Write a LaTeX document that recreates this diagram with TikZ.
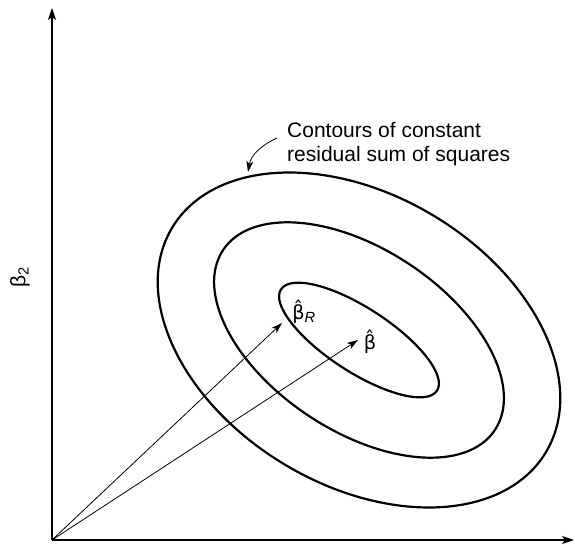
\documentclass[tikz,border=0pt]{standalone}
\usepackage{fontspec}
\setmainfont{Liberation Sans}
\newfontfamily\greekhat[Scale=0.92]{DejaVu Sans}
\usetikzlibrary{arrows.meta, math}

\newcommand{\bhat}{{\greekhat β̂}}

\tikzset{
contour/.style={line width=2.2pt},
axis/.style={line width=1.2pt, -{Stealth[length=12pt,width=8pt,inset=3pt]}},
vec/.style={line width=0.8pt, -{Stealth[length=11pt,width=7pt,inset=3pt]}},
lbl/.style={font=\fontsize{21}{24}\selectfont, inner sep=0pt},
}

\begin{document}
\begin{tikzpicture}[x=1pt,y=1pt]
\tikzmath{
\cx=359;
\cy=204;
}
\useasboundingbox (0,0) rectangle (575,544);
\coordinate (O) at (52,4);
\coordinate (ytop) at (52,536);
\coordinate (xend) at (574,4);
\draw[axis] (O) -- (ytop);
\draw[axis] (O) -- (xend);
\node[lbl, rotate=90] (b2) at (20,267) {β\textsubscript{2}};

% contours
\draw[contour, rotate around={-31:(\cx,\cy)}] (\cx,\cy) ellipse [x radius=218, y radius=145];
\draw[contour, rotate around={-33.5:(\cx,\cy)}] (\cx,\cy) ellipse [x radius=163, y radius=91];
\draw[contour, rotate around={-33:(\cx,\cy)}] (\cx,\cy) ellipse [x radius=93, y radius=32];

\node[lbl, anchor=base west, align=left] (note) at (287,382) {Contours of constant\\residual sum of squares};
\coordinate (nstart) at (277,406);
\coordinate (ntip) at (248,372);
\draw[vec] (nstart) to[out=205, in=80] (ntip);

% estimates
\coordinate (bR) at (282,221);
\coordinate (bhat) at (358,204);
\draw[vec] (O) -- (bR);
\draw[vec] (O) -- (bhat);
\node[lbl] (bRlab) at (304,232) {\bhat\textsubscript{\itshape R}};
\node[lbl] (bhatlab) at (370,202) {\bhat};
\end{tikzpicture}
\end{document}
